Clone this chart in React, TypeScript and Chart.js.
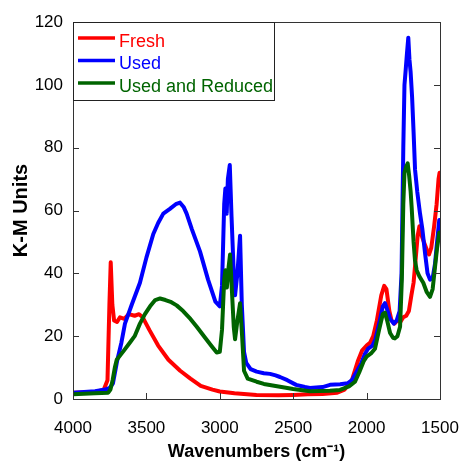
import React, { useEffect, useRef } from "react";
import { Chart, registerables } from "chart.js";

Chart.register(...registerables);

// ---------- data ----------
const seriesLabels = ["Fresh", "Used", "Used and Reduced"];
const seriesColors = ["#ff0000", "#0000ff", "#006400"];

const freshWn = [4000, 3850, 3790, 3765, 3752, 3743, 3732, 3720, 3700, 3680, 3650, 3620, 3580, 3550, 3525, 3480, 3420, 3350, 3270, 3200, 3130, 3050, 3000, 2900, 2750, 2600, 2500, 2400, 2300, 2200, 2150, 2100, 2060, 2030, 2000, 1975, 1955, 1930, 1900, 1880, 1865, 1845, 1830, 1810, 1790, 1770, 1750, 1730, 1712, 1695, 1680, 1665, 1652, 1640, 1625, 1610, 1590, 1575, 1560, 1540, 1523, 1510, 1503];
const freshKM = [2.0, 2.2, 3, 6, 30, 43.5, 30, 25, 24.5, 26, 25.5, 27, 26.5, 27, 26, 22, 17, 12.5, 9, 6.5, 4.2, 3, 2.4, 1.8, 1.3, 1.2, 1.3, 1.5, 1.6, 2, 3, 6, 12, 15.5, 17, 18, 20, 25, 33, 36, 35, 28, 25, 24, 25, 24.5, 26, 26.5, 28, 33, 37, 45, 52, 55, 52, 50, 47.5, 46, 48, 55, 62, 70, 72];

const usedWn = [4000, 3850, 3780, 3750, 3728, 3700, 3670, 3646, 3600, 3544, 3500, 3453, 3420, 3385, 3340, 3300, 3271, 3245, 3226, 3190, 3135, 3080, 3030, 3000, 2985, 2970, 2962, 2953, 2945, 2932, 2920, 2905, 2896, 2880, 2862, 2850, 2835, 2820, 2790, 2749, 2700, 2658, 2620, 2590, 2540, 2480, 2420, 2386, 2300, 2249, 2180, 2130, 2100, 2070, 2040, 2010, 1990, 1960, 1940, 1910, 1890, 1875, 1860, 1840, 1815, 1795, 1775, 1762, 1750, 1742, 1735, 1725, 1716, 1708, 1700, 1690, 1680, 1670, 1655, 1636, 1620, 1602, 1585, 1568, 1550, 1534, 1520, 1505];
const usedKM = [2.0, 2.5, 3, 3.5, 5, 12, 18, 24, 30, 37, 45, 52.5, 56, 59, 60.5, 62, 62.5, 61, 59, 54, 47, 38, 31, 29.5, 36, 62, 67, 59, 70, 74.5, 58, 40, 33, 40, 52, 30, 15, 11.5, 9.5, 8.7, 8.2, 8, 7.5, 7, 6, 4.5, 3.8, 3.5, 3.8, 4.5, 4.7, 5, 6, 8.5, 11, 14.5, 16, 17, 19, 25, 29.5, 30.5, 28.5, 25.5, 24, 25, 28, 40, 80, 100, 104, 110, 115, 108, 104, 96, 85, 73, 66, 59, 54, 46.5, 40, 38, 38.5, 43, 50, 57];

const reducedWn = [4000, 3850, 3760, 3745, 3730, 3715, 3702, 3660, 3612, 3580, 3544, 3510, 3475, 3440, 3407, 3370, 3330, 3294, 3250, 3200, 3157, 3100, 3050, 3021, 3000, 2985, 2970, 2962, 2952, 2940, 2930, 2918, 2905, 2896, 2880, 2862, 2848, 2835, 2810, 2749, 2700, 2590, 2500, 2386, 2250, 2181, 2120, 2079, 2050, 2020, 2000, 1970, 1943, 1915, 1890, 1875, 1860, 1840, 1820, 1807, 1790, 1772, 1760, 1750, 1742, 1730, 1720, 1710, 1700, 1693, 1680, 1670, 1659, 1640, 1614, 1590, 1568, 1550, 1534, 1520, 1505];
const reducedKM = [1.5, 1.8, 2, 3, 6, 10, 12.5, 15, 18, 20, 24, 27, 29.5, 31.5, 32, 31.5, 30.8, 29.8, 28, 25.5, 23, 19.5, 16.5, 14.8, 15, 22, 38, 41, 35.5, 42, 46, 35, 23, 19, 25, 30.5, 20, 9, 6.5, 5.5, 4.8, 3.9, 3.2, 2.5, 2.6, 2.9, 4, 5.5, 8.5, 12, 13.5, 14.5, 16, 22, 27, 27.5, 25, 21, 19.5, 19.3, 20, 23, 38, 62, 72, 74, 75, 71, 66, 61, 50, 44, 41, 39, 37, 34, 32.5, 35, 42, 48, 53];

const xTicks = [4000, 3500, 3000, 2500, 2000, 1500];
const yTicks = [0, 20, 40, 60, 80, 100, 120];
const xTitle = "Wavenumbers (cm\u207B\u00B9)";
const yTitle = "K-M Units";

const FONT = "'Liberation Sans', Arial, sans-serif";

const toPoints = (xs: number[], ys: number[]) => xs.map((x, i) => ({ x, y: ys[i] }));

const framePlugin = {
  id: "frameAndLegend",
  afterDraw(chart: any) {
    const { ctx, chartArea } = chart;
    const { left, right, top, bottom } = chartArea;
    const xs = chart.scales.x;
    const ys = chart.scales.y;
    ctx.save();
    // frame
    ctx.strokeStyle = "#333333";
    ctx.lineWidth = 1;
    ctx.strokeRect(Math.round(left) + 0.5, Math.round(top) + 0.5, Math.round(right - left), Math.round(bottom - top));
    // inward ticks
    ctx.beginPath();
    xTicks.forEach((v) => {
      const px = Math.round(xs.getPixelForValue(v)) + 0.5;
      ctx.moveTo(px, bottom);
      ctx.lineTo(px, bottom - 6);
    });
    yTicks.forEach((v) => {
      const py = Math.round(ys.getPixelForValue(v)) + 0.5;
      ctx.moveTo(left, py);
      ctx.lineTo(left + 6, py);
      ctx.moveTo(right, py);
      ctx.lineTo(right - 6, py);
    });
    ctx.stroke();

    // legend box
    const bx = Math.round(left) + 0.5;
    const by = Math.round(top) + 0.5;
    const bw = 201;
    const bh = 78;
    ctx.fillStyle = "#ffffff";
    ctx.fillRect(bx, by, bw, bh);
    ctx.strokeStyle = "#222222";
    ctx.strokeRect(bx, by, bw, bh);
    const baselines = [46.5, 69, 91.5];
    ctx.font = `18px ${FONT}`;
    ctx.textAlign = "left";
    ctx.textBaseline = "alphabetic";
    chart.data.datasets.forEach((ds: any, i: number) => {
      const base = baselines[i];
      const ly = base - 8.5;
      ctx.strokeStyle = ds.borderColor;
      ctx.lineWidth = 3.5;
      ctx.beginPath();
      ctx.moveTo(left + 5, ly);
      ctx.lineTo(left + 42, ly);
      ctx.stroke();
      ctx.fillStyle = ds.borderColor;
      ctx.fillText(ds.label, left + 46, base);
    });
    ctx.restore();
  },
};

export default function App() {
  const ref = useRef<HTMLCanvasElement | null>(null);
  useEffect(() => {
    if (!ref.current) return;
    const xsList = [freshWn, usedWn, reducedWn];
    const ysList = [freshKM, usedKM, reducedKM];
    const orders = [2, 1, 0];
    const chart = new Chart(ref.current, {
      type: "line",
      data: {
        datasets: seriesLabels.map((label, i) => ({
          label,
          data: toPoints(xsList[i], ysList[i]),
          borderColor: seriesColors[i],
          backgroundColor: seriesColors[i],
          borderWidth: 4,
          pointRadius: 0,
          tension: 0,
          fill: false,
          borderJoinStyle: "round" as const,
          borderCapStyle: "round" as const,
          order: orders[i],
        })),
      },
      options: {
        animation: false,
        responsive: false,
        maintainAspectRatio: false,
        layout: { padding: { top: 22, right: 20, left: 0, bottom: 0 } },
        plugins: {
          legend: { display: false },
          tooltip: { enabled: false },
        },
        scales: {
          x: {
            type: "linear",
            reverse: true,
            min: 1500,
            max: 4000,
            afterBuildTicks: (scale: any) => {
              scale.ticks = xTicks.map((v) => ({ value: v }));
            },
            afterFit: (scale: any) => {
              scale.height = 65;
              scale.paddingLeft = 0;
              scale.paddingRight = 0;
            },
            grid: { display: false, drawTicks: false },
            border: { display: false },
            ticks: {
              padding: 19,
              color: "#000",
              font: { family: FONT, size: 17 },
              maxRotation: 0,
              autoSkip: false,
              callback: (v: any) => String(v),
            },
            title: {
              display: true,
              text: xTitle,
              color: "#000",
              font: { family: FONT, size: 18, weight: "bold" },
              padding: { top: 0, bottom: 1 },
            },
          },
          y: {
            type: "linear",
            min: 0,
            max: 120,
            afterBuildTicks: (scale: any) => {
              scale.ticks = yTicks.map((v) => ({ value: v }));
            },
            afterFit: (scale: any) => {
              scale.width = 73;
              scale.paddingTop = 0;
              scale.paddingBottom = 0;
            },
            grid: { display: false, drawTicks: false },
            border: { display: false },
            ticks: {
              padding: 10,
              color: "#000",
              font: { family: FONT, size: 17 },
              autoSkip: false,
              callback: (v: any) => String(v),
            },
            title: {
              display: true,
              text: yTitle,
              color: "#000",
              font: { family: FONT, size: 20, weight: "bold" },
              padding: { top: 9, bottom: 0 },
            },
          },
        },
      },
      plugins: [framePlugin],
    });
    return () => chart.destroy();
  }, []);
  return (
    <div style={{ position: "fixed", left: 0, top: 0, width: 460, height: 464, background: "#fff" }}>
      <canvas ref={ref} width={460} height={464} style={{ display: "block", width: 460, height: 464 }} />
    </div>
  );
}
